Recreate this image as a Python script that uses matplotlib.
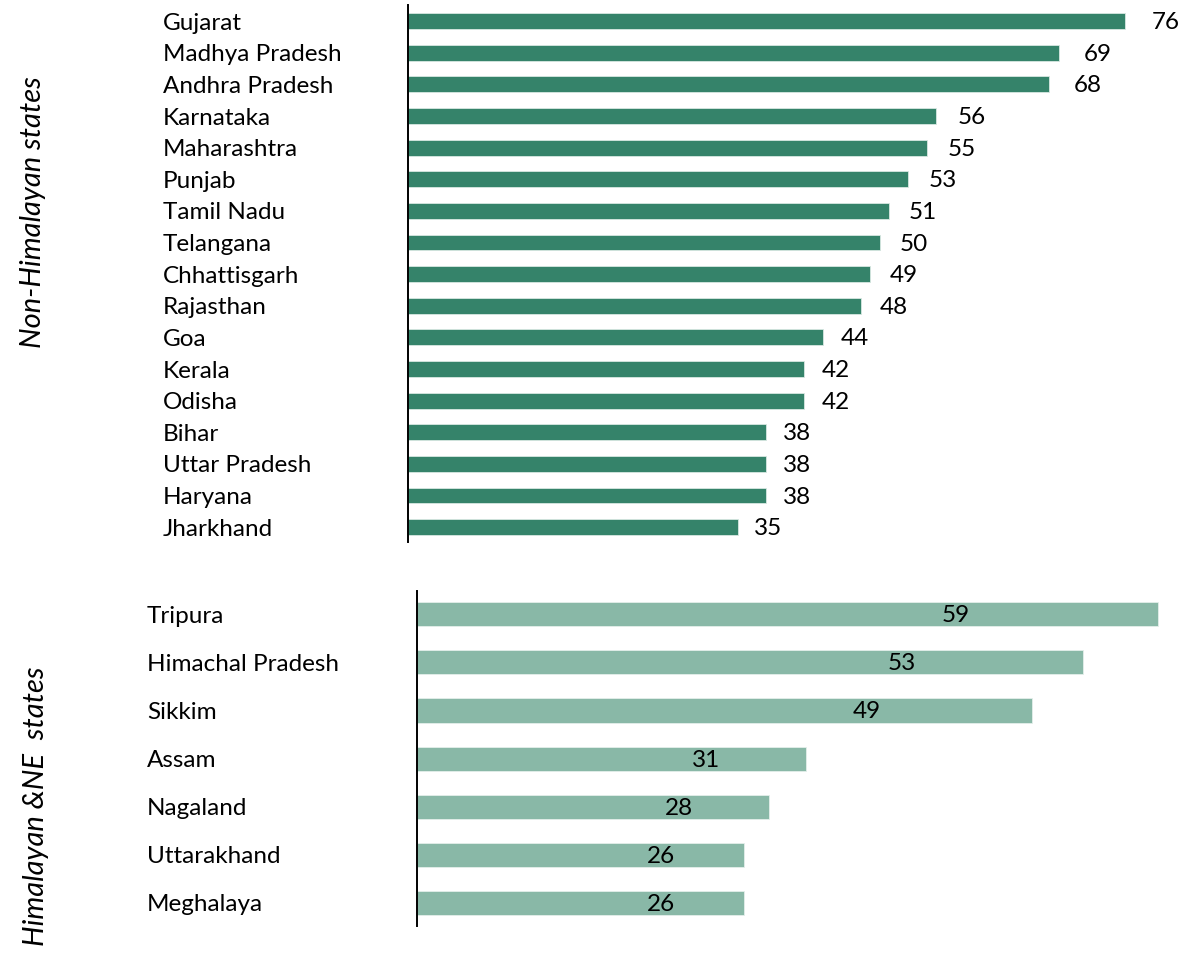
import matplotlib
matplotlib.use("Agg")
import matplotlib.pyplot as plt

plt.rcParams['font.family'] = ['Lato', 'DejaVu Sans']

# share (%) by state, two groups
plain_states = ['Gujarat', 'Madhya Pradesh', 'Andhra Pradesh', 'Karnataka', 'Maharashtra',
                'Punjab', 'Tamil Nadu', 'Telangana', 'Chhattisgarh', 'Rajasthan', 'Goa',
                'Kerala', 'Odisha', 'Bihar', 'Uttar Pradesh', 'Haryana', 'Jharkhand']
plain_share = [76, 69, 68, 56, 55, 53, 51, 50, 49, 48, 44, 42, 42, 38, 38, 38, 35]

hill_states = ['Tripura', 'Himachal Pradesh', 'Sikkim', 'Assam', 'Nagaland',
               'Uttarakhand', 'Meghalaya']
hill_share = [59, 53, 49, 31, 28, 26, 26]

W, H = 1179, 955
fig = plt.figure(figsize=(W / 100, H / 100), dpi=100)
FS = 17.5

def panel(left, top, bottom):
    ax = fig.add_axes([left / W, 1 - bottom / H, 1 - left / W, (bottom - top) / H])
    for s in ['top', 'right', 'bottom']:
        ax.spines[s].set_visible(False)
    ax.spines['left'].set_linewidth(1.4)
    ax.set_xticks([])
    return ax

# non-Himalayan states
ax1 = panel(408, 5, 542)
ax1.barh(range(len(plain_states)), plain_share, height=0.5, color='#35836a',
         edgecolor='#d8e8e2', linewidth=0.6)
ax1.set_xlim(0, (W - 408) / 9.43)
ax1.set_ylim(16.47, -0.51)
ax1.set_yticks(range(len(plain_states)), plain_states, fontsize=FS)
for t in ax1.get_yticklabels():
    t.set_ha('left')
ax1.tick_params(axis='y', length=0, pad=(408 - 163) * 0.72)
for i, v in enumerate(plain_share):
    ax1.text(1.03 * v + 0.6, i + 0.05, str(v), ha='left', va='center', fontsize=FS)

# Himalayan & north-east states
ax2 = panel(417, 591, 926)
ax2.barh(range(len(hill_states)), hill_share, height=0.5, color='#89b8a7',
         edgecolor='#e4efeb', linewidth=0.6)
ax2.set_xlim(0, (W - 417) / 12.56)
ax2.set_ylim(6.48, -0.485)
ax2.set_yticks(range(len(hill_states)), hill_states, fontsize=FS)
for t in ax2.get_yticklabels():
    t.set_ha('left')
ax2.tick_params(axis='y', length=0, pad=(417 - 147) * 0.72)
for i, v in enumerate(hill_share):
    ax2.text(0.71 * v + 1, i + 0.03, str(v), ha='center', va='center', fontsize=FS)

fig.text(33 / W, 1 - 212 / H, 'Non-Himalayan states', rotation=90, style='italic',
         ha='center', va='center', fontsize=21)
fig.text(36 / W, 1 - 806 / H, 'Himalayan &NE  states', rotation=90, style='italic',
         ha='center', va='center', fontsize=21)

fig.savefig('out.png', dpi=100)
